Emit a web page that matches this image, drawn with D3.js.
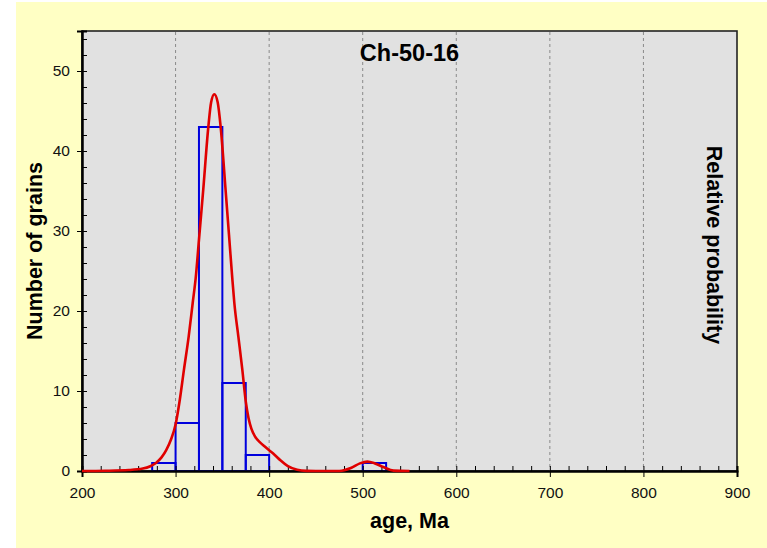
<!DOCTYPE html>
<html>
<head>
<meta charset="utf-8">
<script src="https://cdn.jsdelivr.net/npm/d3@7"></script>
<style>
  body { margin: 0; background: #fff; }
  svg { display: block; }
</style>
</head>
<body>
<div id="chart"></div>
<script>
// histogram bins (age, Ma) and grain counts
const binLo = [275, 300, 325, 350, 375, 500];
const binHi = [300, 325, 350, 375, 400, 525];
const binCounts = [1, 6, 43, 11, 2, 1];

// relative probability curve (in grain units)
const probAge = [200, 225, 250, 265, 273, 279, 285, 290, 295, 300, 304, 309, 314, 318.3, 321.5, 325, 329.6, 335, 338, 341.4, 345, 348.2, 353.4, 357.5, 360.6, 362.8, 367.1, 371.3, 375, 378, 381, 385, 390, 395, 400, 406, 412, 420, 430, 440, 450, 475, 488, 497, 505, 513, 522, 533, 550];
const probValue = [0, 0.03, 0.12, 0.3, 0.6, 1.0, 1.7, 2.6, 3.9, 5.8, 8.5, 12.7, 16.8, 21.0, 24.1, 28.9, 35.2, 43.0, 46.1, 47.1, 46.1, 43.0, 35.2, 28.9, 24.1, 21.0, 16.8, 12.7, 8.7, 6.6, 5.3, 4.3, 3.6, 3.1, 2.6, 2.0, 1.35, 0.6, 0.15, 0.02, 0, 0, 0.4, 0.95, 1.17, 0.95, 0.5, 0.05, 0];

const xTicks = [200, 300, 400, 500, 600, 700, 800, 900];
const xGrid = [300, 400, 500, 600, 700, 800];
const yTicks = [0, 10, 20, 30, 40, 50];

const title = "Ch-50-16";
const xLabel = "age, Ma";
const yLabel = "Number of grains";
const y2Label = "Relative probability";

const width = 767, height = 548;
const plot = { left: 82, right: 737, top: 31, bottom: 471 };
const font = "'Liberation Sans', Arial, sans-serif";

const svg = d3.select("#chart").append("svg")
    .attr("width", width)
    .attr("height", height);

// yellow panel
svg.append("rect")
    .attr("x", 16).attr("y", 2)
    .attr("width", width - 16).attr("height", height - 2)
    .attr("fill", "#ffffc4");

const x = d3.scaleLinear().domain([200, 900]).range([plot.left, plot.right]);
const y = d3.scaleLinear().domain([0, 55]).range([plot.bottom, plot.top]);

// plot background
svg.append("rect")
    .attr("x", plot.left).attr("y", plot.top)
    .attr("width", plot.right - plot.left).attr("height", plot.bottom - plot.top)
    .attr("fill", "#e1e1e1")
    .attr("stroke", "#222")
    .attr("stroke-width", 1.6);

// dashed grid
svg.append("g").selectAll("line")
    .data(xGrid)
    .join("line")
    .attr("x1", d => x(d)).attr("x2", d => x(d))
    .attr("y1", plot.top + 1).attr("y2", plot.bottom)
    .attr("stroke", "#8a8a8a")
    .attr("stroke-dasharray", "3,3");

// histogram outlines
svg.append("g").selectAll("rect")
    .data(binCounts)
    .join("rect")
    .attr("x", (d, i) => x(binLo[i]))
    .attr("width", (d, i) => x(binHi[i]) - x(binLo[i]))
    .attr("y", d => y(d))
    .attr("height", d => y(0) - y(d))
    .attr("fill", "none")
    .attr("stroke", "#0000dd")
    .attr("stroke-width", 2);

// axes: outward major ticks with labels, inward minor+major ticks
const minorX = d3.range(200, 901, 20);
const minorY = d3.range(0, 55, 2);

const xAxisOut = svg.append("g")
    .attr("transform", `translate(0,${plot.bottom})`)
    .call(d3.axisBottom(x).tickValues(xTicks).tickSize(6).tickPadding(10).tickFormat(d3.format("d")));
const xAxisIn = svg.append("g")
    .attr("transform", `translate(0,${plot.bottom})`)
    .call(d3.axisTop(x).tickValues(minorX).tickSize(5).tickFormat(""));

const yAxisOut = svg.append("g")
    .attr("transform", `translate(${plot.left},0)`)
    .call(d3.axisLeft(y).tickValues(yTicks).tickSize(5).tickPadding(7));
const yAxisIn = svg.append("g")
    .attr("transform", `translate(${plot.left},0)`)
    .call(d3.axisRight(y).tickValues(minorY).tickSize(5).tickFormat(""));

[xAxisOut, xAxisIn, yAxisOut, yAxisIn].forEach(g => {
    g.select(".domain").attr("stroke", "#000").attr("stroke-width", 2);
    g.selectAll(".tick line").attr("stroke", "#000").attr("stroke-width", 1);
    g.selectAll(".tick text")
        .attr("font-family", font)
        .attr("font-size", 15.5)
        .attr("fill", "#111");
});

// probability curve
const line = d3.line()
    .x((d, i) => x(probAge[i]))
    .y(d => y(d))
    .curve(d3.curveMonotoneX);

svg.append("path")
    .datum(probValue)
    .attr("d", line)
    .attr("fill", "none")
    .attr("stroke", "#e00000")
    .attr("stroke-width", 2.6)
    .attr("stroke-linejoin", "round");

// texts
svg.append("text")
    .attr("x", (plot.left + plot.right) / 2)
    .attr("y", 61)
    .attr("text-anchor", "middle")
    .attr("font-family", font)
    .attr("font-weight", "bold")
    .attr("font-size", 23.5)
    .text(title);

svg.append("text")
    .attr("x", (plot.left + plot.right) / 2)
    .attr("y", 528)
    .attr("text-anchor", "middle")
    .attr("font-family", font)
    .attr("font-weight", "bold")
    .attr("font-size", 21.5)
    .text(xLabel);

svg.append("text")
    .attr("transform", `translate(42,${(plot.top + plot.bottom) / 2}) rotate(-90)`)
    .attr("text-anchor", "middle")
    .attr("font-family", font)
    .attr("font-weight", "bold")
    .attr("font-size", 21.5)
    .text(yLabel);

svg.append("text")
    .attr("transform", `translate(707,245) rotate(90)`)
    .attr("text-anchor", "middle")
    .attr("font-family", font)
    .attr("font-weight", "bold")
    .attr("font-size", 21.5)
    .text(y2Label);
</script>
</body>
</html>
